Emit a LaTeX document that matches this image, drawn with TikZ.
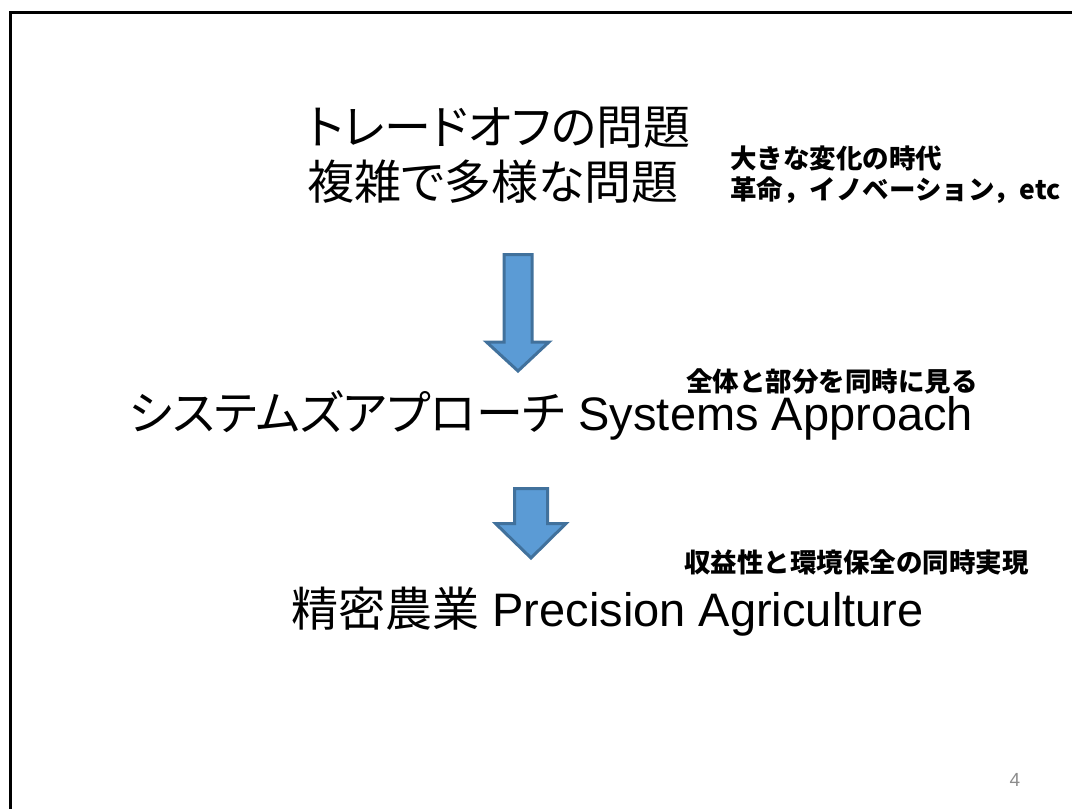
\documentclass[tikz,border=0pt]{standalone}
\usepackage{fontspec}
\setmainfont{Liberation Sans}
\newfontfamily\jp[RawFeature=+palt]{Noto Sans CJK JP}
\newfontfamily\jpm{Noto Sans CJK JP}
\definecolor{arrowfill}{HTML}{5B9BD5}
\definecolor{arrowline}{HTML}{41719C}
\definecolor{pagegray}{HTML}{8C8C8C}
\begin{document}
\begin{tikzpicture}[x=1pt,y=-1pt,
  big/.style={inner sep=0pt, font=\fontsize{47}{56}\selectfont},
  small/.style={inner sep=0pt, anchor=west, font=\jpm\bfseries\fontsize{26.5}{32}\selectfont},
  blockarrow/.style={fill=arrowfill, draw=arrowline, line width=3pt, line join=miter}]
\useasboundingbox (0,0) rectangle (1072,809);
\draw[line width=3pt] (10.5,809) -- (10.5,12.5) -- (1072,12.5);
% title
\node[big, anchor=west] (t1) at (307,128) {\jp トレードオフの問題};
\node[big, anchor=west] (t2) at (307,182) {\jp 複雑で多様な問題};
\node[small] (s1) at (730,158) {大きな変化の時代};
\node[small] (s2) at (730,190) {革命，イノベーション，etc};
% arrow 1
\coordinate (a1) at (518,254.5);
\draw[blockarrow] (a1) ++(-14,0) -- ++(28,0) -- ++(0,87.5) -- ++(17,0) -- (518,371) -- (486.5,342) -- (504,342) -- cycle;
% systems
\node[big] (sys) at (551,415) {{\jp システムズアプローチ} Systems Approach};
\node[small] (s3) at (686,381) {全体と部分を同時に見る};
% arrow 2
\coordinate (a2) at (531,488.5);
\draw[blockarrow] (a2) ++(-16.5,0) -- ++(33,0) -- ++(0,35) -- ++(18.5,0) -- (531,558) -- (495.5,523.5) -- (514.5,523.5) -- cycle;
% precision
\node[big] (pa) at (607.5,612) {{\jp 精密農業} Precision Agriculture};
\node[small] (s4) at (684,562) {収益性と環境保全の同時実現};
% page number
\node[inner sep=0pt, text=pagegray, font=\fontsize{19}{22}\selectfont] (pg) at (1015,780) {4};
\end{tikzpicture}
\end{document}
